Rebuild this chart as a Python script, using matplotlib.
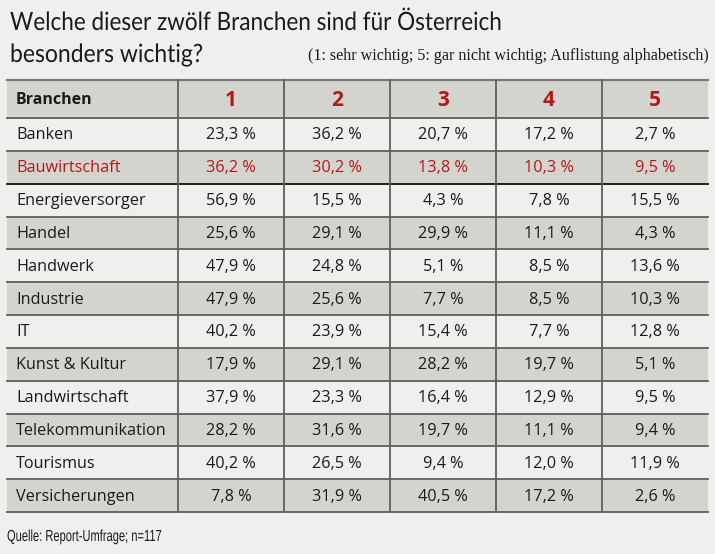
import matplotlib
matplotlib.use("Agg")
import matplotlib.pyplot as plt
from matplotlib.patches import Rectangle
from matplotlib import patheffects
from matplotlib.transforms import Affine2D

categories = ["Banken", "Bauwirtschaft", "Energieversorger", "Handel", "Handwerk",
              "Industrie", "IT", "Kunst & Kultur", "Landwirtschaft",
              "Telekommunikation", "Tourismus", "Versicherungen"]
columns = ["1", "2", "3", "4", "5"]
rating1 = [23.3, 36.2, 56.9, 25.6, 47.9, 47.9, 40.2, 17.9, 37.9, 28.2, 40.2, 7.8]
rating2 = [36.2, 30.2, 15.5, 29.1, 24.8, 25.6, 23.9, 29.1, 23.3, 31.6, 26.5, 31.9]
rating3 = [20.7, 13.8, 4.3, 29.9, 5.1, 7.7, 15.4, 28.2, 16.4, 19.7, 9.4, 40.5]
rating4 = [17.2, 10.3, 7.8, 11.1, 8.5, 8.5, 7.7, 19.7, 12.9, 11.1, 12.0, 17.2]
rating5 = [2.7, 9.5, 15.5, 4.3, 13.6, 10.3, 12.8, 5.1, 9.5, 9.4, 11.9, 2.6]
highlight = "Bauwirtschaft"

title1 = "Welche dieser zwölf Branchen sind für Österreich"
title2 = "besonders wichtig?"
subtitle = "(1: sehr wichtig; 5: gar nicht wichtig; Auflistung alphabetisch)"
source = "Quelle: Report-Umfrage; n=117"
header_label = "Branchen"

W, H = 715, 554
BG = "#f0efed"
GRAY = "#d4d4cf"
RED = "#b3181b"
LINE = "#5e5e5e"


class Squeeze(patheffects.AbstractPathEffect):
    """Horizontally compress glyphs around an anchor x (display coords)."""
    def __init__(self, x0, sx):
        super().__init__()
        self.x0, self.sx = x0, sx

    def draw_path(self, renderer, gc, tpath, affine, rgbFace=None):
        t = affine + Affine2D().translate(-self.x0, 0).scale(self.sx, 1).translate(self.x0, 0)
        renderer.draw_path(gc, tpath, t, rgbFace)


fig = plt.figure(figsize=(W / 100, H / 100), dpi=100, facecolor=BG)
ax = fig.add_axes([0, 0, 1, 1])
ax.set_xlim(0, W)
ax.set_ylim(H, 0)
ax.axis("off")
renderer = fig.canvas.get_renderer()


def fit_size(t, target_w):
    bb = t.get_window_extent(renderer)
    t.set_fontsize(t.get_fontsize() * target_w / bb.width)


def squeeze(t, target_w):
    bb = t.get_window_extent(renderer)
    x0 = ax.transData.transform(t.get_position())[0]
    t.set_path_effects([Squeeze(x0, target_w / bb.width)])


left, right = 7, 708
first_w = 171
col_w = (right - left - first_w) / len(columns)
xb = [left, left + first_w] + [left + first_w + col_w * (i + 1) for i in range(len(columns))]
head_top, head_bot = 80, 118
row_h = (512 - head_bot) / len(categories)

body_font = ["Open Sans", "DejaVu Sans"]
title_font = ["Lato", "DejaVu Sans"]

# Title (slightly larger glyphs, horizontally condensed to the reference width)
t1 = ax.text(10, 30, title1, fontsize=17, family=title_font, color="#1a1a1a", va="baseline")
fit_size(t1, 492)
t1.set_fontsize(t1.get_fontsize() * 1.12)
squeeze(t1, 492)
t2 = ax.text(10, 62, title2, fontsize=t1.get_fontsize(), family=title_font,
             color="#1a1a1a", va="baseline")
squeeze(t2, 193)
ts = ax.text(308, 60, subtitle, fontsize=9.3, family=["Liberation Serif", "DejaVu Serif"],
             color="#1a1a1a", va="baseline", ha="left")
fit_size(ts, 400)

# Header background
ax.add_patch(Rectangle((left, head_top), right - left, head_bot - head_top,
                       facecolor=GRAY, edgecolor="none"))
# Row backgrounds
for i, cat in enumerate(categories):
    y0 = head_bot + i * row_h
    fc = GRAY if i % 2 == 1 else BG
    ax.add_patch(Rectangle((left, y0), right - left, row_h, facecolor=fc, edgecolor="none"))

# Horizontal lines
ax.plot([left, right], [head_top, head_top], color="#7a7a7a", lw=1.6)
ax.plot([left, right], [head_bot, head_bot], color=LINE, lw=1.3)
for i, cat in enumerate(categories):
    y1 = head_bot + (i + 1) * row_h
    c = "#111111" if cat == highlight else LINE
    ax.plot([left, right], [y1, y1], color=c, lw=1.3)
# Vertical lines
for x in xb[1:-1]:
    ax.plot([x, x], [head_top, head_bot + len(categories) * row_h], color=LINE, lw=1.3)

# Header text
ax.text(16, (head_top + head_bot) / 2 + 1, header_label, fontsize=11.5, fontweight="bold",
        family=body_font, color="#1a1a1a", va="center", ha="left")
for j, c in enumerate(columns):
    xc = (xb[j + 1] + xb[j + 2]) / 2
    ax.text(xc, (head_top + head_bot) / 2 + 2, c, fontsize=15, fontweight="bold",
            family=body_font, color=RED, va="center", ha="center")

# Body
values = [rating1, rating2, rating3, rating4, rating5]
for i, cat in enumerate(categories):
    yc = head_bot + (i + 0.5) * row_h + 1
    tc = RED if cat == highlight else "#1a1a1a"
    ax.text(16, yc, cat, fontsize=11.7, family=body_font, color=tc, va="center", ha="left")
    for j, series in enumerate(values):
        xc = (xb[j + 1] + xb[j + 2]) / 2
        s = f"{series[i]:.1f}".replace(".", ",") + " %"
        ax.text(xc, yc, s, fontsize=11.7, family=body_font, color=tc, va="center", ha="center")

tf = ax.text(7, 541, source, fontsize=11.5, family=["Liberation Sans", "DejaVu Sans"],
             color="#1a1a1a", va="baseline")
squeeze(tf, 155)

fig.savefig("out.png", dpi=100, facecolor=BG)
